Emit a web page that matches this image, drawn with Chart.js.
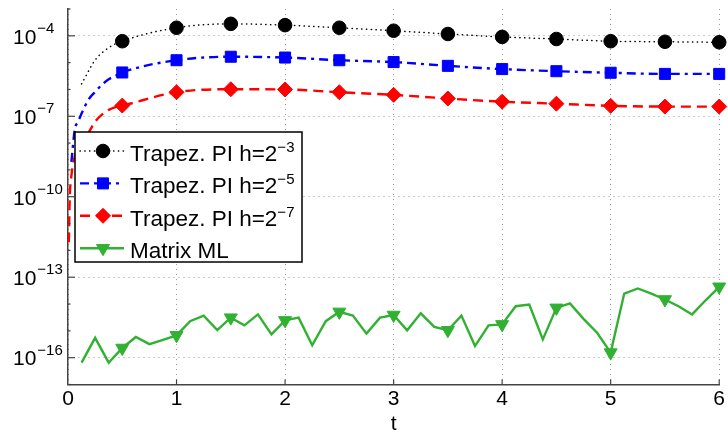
<!DOCTYPE html>
<html lang="en">
<head>
<meta charset="UTF-8">
<title>Trapez. PI vs Matrix ML</title>
<style>
  html, body { margin: 0; padding: 0; background: #fff; }
</style>
</head>
<body>
<canvas id="myChart" width="728" height="432"></canvas>
<script src="https://cdn.jsdelivr.net/npm/chart.js@4.4.1/dist/chart.umd.min.js"></script>
<script>
// error curves, t on x, error on a log y axis
const tH3 = [0.125, 0.25, 0.375, 0.5, 1, 1.5, 2, 2.5, 3, 3.5, 4, 4.5, 5, 5.5, 6];
const errH3 = [1.6e-6, 1.25e-5, 3.6e-5, 6.3e-5, 2.0e-4, 2.8e-4, 2.5e-4, 2.0e-4, 1.55e-4, 1.17e-4, 9.1e-5, 7.6e-5, 6.3e-5, 6.0e-5, 5.75e-5];

const tH5 = [0.03125, 0.0625, 0.09375, 0.125, 0.1875, 0.25, 0.3125, 0.375, 0.4375, 0.5, 1, 1.5, 2, 2.5, 3, 3.5, 4, 4.5, 5, 5.5, 6];
const errH5 = [2.0e-9, 3.2e-8, 6.3e-8, 1.26e-7, 4.1e-7, 8.1e-7, 1.5e-6, 2.4e-6, 3.2e-6, 4.3e-6, 1.23e-5, 1.66e-5, 1.55e-5, 1.23e-5, 1.05e-5, 7.6e-6, 5.75e-6, 4.8e-6, 4.2e-6, 3.8e-6, 3.8e-6];

const tH7 = [0.0078125, 0.015625, 0.03125, 0.0625, 0.125, 0.1875, 0.25, 0.3125, 0.375, 0.4375, 0.5, 1, 1.5, 2, 2.5, 3, 3.5, 4, 4.5, 5, 5.5, 6];
const errH7 = [2e-12, 8e-11, 6e-10, 3.2e-9, 1.1e-8, 2.4e-8, 6.3e-8, 1.15e-7, 1.74e-7, 2.2e-7, 2.5e-7, 7.9e-7, 1.02e-6, 1.0e-6, 7.9e-7, 6.3e-7, 4.6e-7, 3.5e-7, 2.95e-7, 2.45e-7, 2.3e-7, 2.3e-7];

const tML = [0.125, 0.25, 0.375, 0.5, 0.625, 0.75, 0.875, 1, 1.125, 1.25, 1.375, 1.5, 1.625, 1.75, 1.875, 2,
             2.125, 2.25, 2.375, 2.5, 2.625, 2.75, 2.875, 3, 3.125, 3.25, 3.375, 3.5, 3.625, 3.75, 3.875, 4,
             4.125, 4.25, 4.375, 4.5, 4.625, 4.75, 4.875, 5, 5.125, 5.25, 5.375, 5.5, 5.625, 5.75, 5.875, 6];
const errML = [6.5e-17, 5.5e-16, 6.5e-17, 2.3e-16, 5.9e-16, 3.2e-16, 4.6e-16, 6.8e-16, 2.3e-15, 3.7e-15, 1.07e-15, 3.1e-15, 1.6e-15, 4.1e-15, 7.4e-16, 2.45e-15,
               3.1e-15, 2.9e-16, 2.3e-15, 5.1e-15, 3.7e-15, 7.9e-16, 3.1e-15, 3.9e-15, 1.05e-15, 4.5e-15, 1.4e-15, 1.05e-15, 3.7e-15, 2.7e-16, 1.6e-15, 1.74e-15,
               8.3e-15, 9.5e-15, 4.8e-16, 7.2e-15, 1.05e-14, 2.8e-15, 8.5e-16, 1.55e-16, 2.45e-14, 3.8e-14, 2.45e-14, 1.48e-14, 8.3e-15, 4.1e-15, 1.38e-14, 4.4e-14];

const seriesNames = ['Trapez. PI h=2', 'Trapez. PI h=2', 'Trapez. PI h=2', 'Matrix ML'];
const seriesExps = ['\u22123', '\u22125', '\u22127', ''];

const yTickValues = [1e-4, 1e-7, 1e-10, 1e-13, 1e-16];
const yTickExps = ['\u22124', '\u22127', '\u221210', '\u221213', '\u221216'];

const FONT = "'Liberation Sans', Arial, Helvetica, sans-serif";

// markers only every 0.5 in t
function markAt(ts, r) {
    return ts.map(t => (t >= 0.5 && Math.abs(t * 2 - Math.round(t * 2)) < 1e-9) ? r : 0);
}
function pts(ts, vs) {
    return ts.map((t, i) => ({x: t, y: vs[i]}));
}

const datasets = [
    {
        label: seriesNames[0], data: pts(tH3, errH3),
        borderColor: '#000', backgroundColor: '#000', borderWidth: 1.5,
        borderDash: [0.3, 4.5], borderCapStyle: 'round',
        pointStyle: 'circle', pointRadius: markAt(tH3, 6.8), legendRadius: 6.8,
        cubicInterpolationMode: 'monotone'
    },
    {
        label: seriesNames[1], data: pts(tH5, errH5),
        borderColor: '#0000ff', backgroundColor: '#0000ff', borderWidth: 2.4,
        borderDash: [9, 5, 3, 5],
        pointStyle: 'rect', pointRadius: markAt(tH5, 7.8), legendRadius: 7.8,
        cubicInterpolationMode: 'monotone'
    },
    {
        label: seriesNames[2], data: pts(tH7, errH7),
        borderColor: '#ff0000', backgroundColor: '#ff0000', borderWidth: 2.4,
        borderDash: [10, 6],
        pointStyle: 'rectRot', pointRadius: markAt(tH7, 7.5), legendRadius: 7.5,
        cubicInterpolationMode: 'monotone'
    },
    {
        label: seriesNames[3], data: pts(tML, errML),
        borderColor: '#31b131', backgroundColor: '#31b131', borderWidth: 2.4,
        pointStyle: 'triangle', pointRotation: 180, pointRadius: markAt(tML, 7.5), legendRadius: 7.5,
        tension: 0
    }
];
datasets.forEach(d => {
    d.pointBorderColor = d.borderColor;
    d.pointBackgroundColor = d.backgroundColor;
    d.pointBorderWidth = 1;
    d.pointHoverRadius = 0;
    d.clip = false;
});

// y labels as 10 with raised exponent, plus inward tick marks
const axisExtras = {
    id: 'axisExtras',
    afterDraw(chart) {
        const ctx = chart.ctx;
        const ys = chart.scales.y, xs = chart.scales.x;
        const area = chart.chartArea;
        ctx.save();
        ctx.strokeStyle = '#444';
        ctx.lineWidth = 1.2;
        for (let e = -17; e <= -3; e++) {
            const py = ys.getPixelForValue(Math.pow(10, e));
            const major = yTickValues.some(v => Math.abs(Math.log10(v) - e) < 1e-9);
            ctx.beginPath();
            ctx.moveTo(area.left, py);
            ctx.lineTo(area.left + (major ? 7 : 2.5), py);
            ctx.stroke();
        }
        for (let v = 1; v <= 6; v++) {
            const px = xs.getPixelForValue(v);
            ctx.beginPath();
            ctx.moveTo(px, area.bottom);
            ctx.lineTo(px, area.bottom - 5);
            ctx.stroke();
        }
        ctx.fillStyle = '#000';
        ctx.textAlign = 'left';
        ctx.textBaseline = 'middle';
        yTickValues.forEach((v, i) => {
            const py = ys.getPixelForValue(v);
            ctx.font = '21px ' + FONT;
            ctx.fillText('10', 13, py + 2);
            const w = ctx.measureText('10').width;
            ctx.font = '15px ' + FONT;
            ctx.fillText(yTickExps[i], 13 + w + 1, py - 7);
        });
        ctx.restore();
    }
};

// boxed legend inside the plot, top-left
const boxLegend = {
    id: 'boxLegend',
    afterDatasetsDraw(chart) {
        const ctx = chart.ctx;
        const area = chart.chartArea;
        const bx = area.left + 7, by = area.top + 123, bw = 227, bh = 130;
        ctx.save();
        ctx.fillStyle = '#fff';
        ctx.fillRect(bx, by, bw, bh);
        ctx.strokeStyle = '#000';
        ctx.lineWidth = 1.5;
        ctx.strokeRect(bx, by, bw, bh);
        chart.data.datasets.forEach((ds, i) => {
            const y = by + 19 + i * 32.4;
            ctx.save();
            ctx.strokeStyle = ds.borderColor;
            ctx.lineWidth = ds.borderWidth;
            ctx.lineCap = ds.borderCapStyle || 'butt';
            ctx.setLineDash(ds.borderDash || []);
            ctx.beginPath();
            ctx.moveTo(bx + 5, y);
            ctx.lineTo(bx + 49, y);
            ctx.stroke();
            ctx.setLineDash([]);
            ctx.fillStyle = ds.backgroundColor;
            ctx.lineWidth = 1;
            Chart.helpers.drawPoint(ctx, {
                pointStyle: ds.pointStyle, rotation: ds.pointRotation || 0,
                radius: ds.legendRadius, borderWidth: 1
            }, bx + 28, y);
            ctx.restore();

            ctx.fillStyle = '#000';
            ctx.textAlign = 'left';
            ctx.textBaseline = 'alphabetic';
            ctx.font = '22.5px ' + FONT;
            ctx.fillText(seriesNames[i], bx + 55, y + 10);
            if (seriesExps[i]) {
                const w = ctx.measureText(seriesNames[i]).width;
                ctx.font = '15px ' + FONT;
                ctx.fillText(seriesExps[i], bx + 55 + w, y + 1);
            }
        });
        ctx.restore();
    }
};

const ctx = document.getElementById('myChart');

const chartOptions = {
    responsive: false,
    animation: false,
    events: [],
    layout: { padding: { left: 0, right: 6, top: 9, bottom: 0 } },
    plugins: {
        legend: { display: false },
        tooltip: { enabled: false }
    },
    scales: {
        x: {
            type: 'linear', min: 0, max: 6,
            ticks: { stepSize: 1, color: '#000', font: { family: FONT, size: 21 }, padding: 2, maxRotation: 0 },
            grid: { color: '#999', lineWidth: 1, drawTicks: false },
            border: { color: '#444', width: 1.5, dash: [1, 4] },
            title: { display: true, text: 't', color: '#000', font: { family: FONT, size: 21, lineHeight: 0.7 }, padding: { top: 0, bottom: 0 } },
            afterFit: s => { s.height = 47.5; }
        },
        y: {
            type: 'logarithmic', min: 1e-17, max: 1e-3,
            afterBuildTicks: s => { s.ticks = yTickValues.map(v => ({ value: v })); },
            ticks: { display: false },
            grid: { color: '#999', lineWidth: 1, drawTicks: false },
            border: { color: '#444', width: 1.5, dash: [1, 4] },
            afterFit: s => { s.width = 68; }
        }
    }
};

const lineChart = new Chart(ctx, {
    type: 'line',
    data: { datasets: datasets },
    options: chartOptions,
    plugins: [boxLegend, axisExtras]
});
</script>
</body>
</html>
